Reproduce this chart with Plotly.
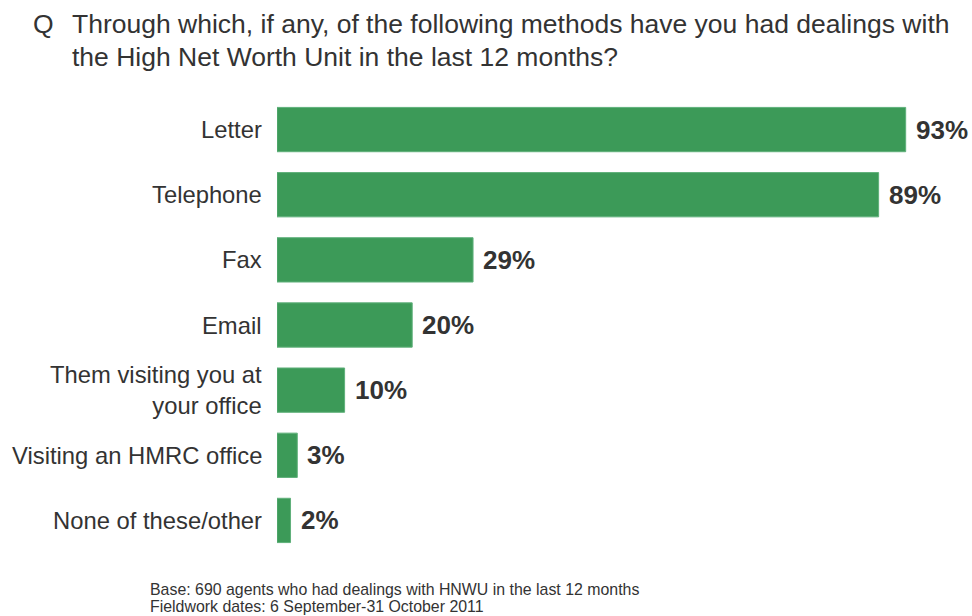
import plotly.graph_objects as go

methods = [
    "Letter",
    "Telephone",
    "Fax",
    "Email",
    "Them visiting you at<br>your office",
    "Visiting an HMRC office",
    "None of these/other",
]
shares = [93, 89, 29, 20, 10, 3, 2]
value_labels = [f"{v}%" for v in shares]

BAR_GREEN = "#3c9a58"
TEXT_GREY = "#333333"
FONT = "Liberation Sans, Arial, sans-serif"

W, H = 972, 616
ml, mr, mt, mb = 277, 19, 97, 63


def px_to_paper(x, y):
    return (x - ml) / (W - ml - mr), 1 - (y - mt) / (H - mt - mb)


fig = go.Figure()
fig.add_trace(go.Bar(
    x=shares,
    y=methods,
    orientation="h",
    marker=dict(color=BAR_GREEN, line=dict(color="#5fb07a", width=1)),
    hoverinfo="skip",
))

# value labels just past the end of each bar
for m, v, lab in zip(methods, shares, value_labels):
    fig.add_annotation(
        x=v, y=m, xref="x", yref="y",
        text=f"<b>{lab}</b>", showarrow=False,
        xanchor="left", yanchor="middle", xshift=8,
        font=dict(family=FONT, size=26, color=TEXT_GREY),
    )

# category labels, right-aligned against the bars
for m in methods:
    fig.add_annotation(
        x=0, y=m, xref="x", yref="y",
        text=m, showarrow=False, align="right",
        xanchor="right", yanchor="middle", xshift=-13,
        font=dict(family=FONT, size=23.8, color=TEXT_GREY),
    )

# question text
title_font = dict(family=FONT, size=26.5, color=TEXT_GREY)
for (px, py, txt, anchor) in [
    (43, 24, "Q", "center"),
    (70, 24, "Through which, if any, of the following methods have you had dealings with", "left"),
    (70, 57, "the High Net Worth Unit in the last 12 months?", "left"),
]:
    ax, ay = px_to_paper(px, py)
    fig.add_annotation(x=ax, y=ay, xref="paper", yref="paper", text=txt,
                       showarrow=False, xanchor=anchor, yanchor="middle",
                       font=title_font)

# base / fieldwork note
note_font = dict(family=FONT, size=15.9, color=TEXT_GREY)
for (py, txt) in [
    (589, "Base: 690 agents who had dealings with HNWU in the last 12 months"),
    (606, "Fieldwork dates: 6 September-31 October 2011"),
]:
    ax, ay = px_to_paper(148, py)
    fig.add_annotation(x=ax, y=ay, xref="paper", yref="paper", text=txt,
                       showarrow=False, xanchor="left", yanchor="middle",
                       font=note_font)

fig.update_layout(
    width=W, height=H,
    margin=dict(l=ml, r=mr, t=mt, b=mb),
    paper_bgcolor="white", plot_bgcolor="white",
    showlegend=False,
    bargap=0.32,
    xaxis=dict(range=[0, 100], visible=False, fixedrange=True),
    yaxis=dict(
        autorange="reversed", showgrid=False, zeroline=False, showline=False,
        showticklabels=False, ticks="", fixedrange=True,
    ),
)

fig.write_html("out.html")
